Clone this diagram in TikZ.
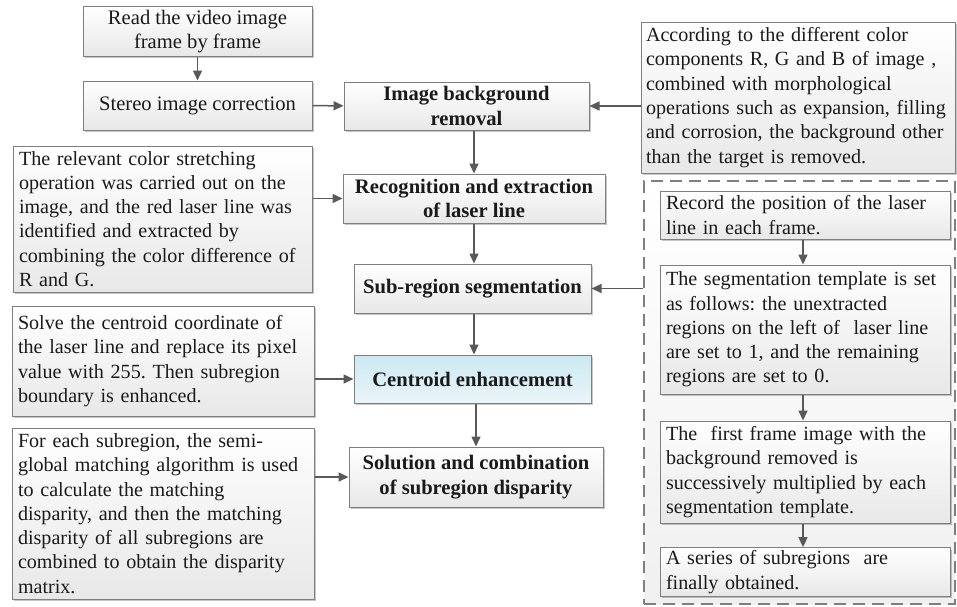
\documentclass[tikz,border=0pt]{standalone}
\usepackage{fontspec}
\setmainfont{Liberation Serif}
\usetikzlibrary{arrows.meta,shadows}
\definecolor{edge}{HTML}{7F7F7F}
\definecolor{arrowgray}{HTML}{595959}
\definecolor{ink}{HTML}{1A1A1A}
\definecolor{fillbot}{HTML}{E8E8E8}
\definecolor{grpbot}{HTML}{F0F0F0}
\definecolor{bluetop}{HTML}{CBE9F3}
\definecolor{bluebot}{HTML}{EAF5F8}
\newcommand{\txtsize}{\fontsize{20.6}{24.3}\selectfont}
\newcommand{\notesize}{\fontsize{20.1}{24.3}\selectfont}
\frenchspacing

\begin{document}
\begin{tikzpicture}[x=1pt,y=-1pt,
  font=\txtsize, text=ink,
  box/.style={draw=edge, line width=1pt, top color=white, bottom color=fillbot,
    drop shadow={shadow xshift=2pt,shadow yshift=-2pt,opacity=0.22,fill=black},
    inner ysep=3pt, inner xsep=6pt},
  centerbox/.style={box, align=center},
  stepbox/.style={centerbox, font=\txtsize\bfseries},
  note/.style={box, align=left, font=\notesize,
    execute at begin node={\hyphenpenalty=10000\exhyphenpenalty=10000\frenchspacing}},
  arr/.style={draw=arrowgray, line width=1.5pt, -{Triangle[length=10pt,width=9pt]}},
]
\useasboundingbox (0,0) rectangle (957,606);

% dashed group holding the segmentation sub-steps
\node[draw=edge, line width=1.1pt, dash pattern=on 12pt off 7pt,
      top color=white, bottom color=grpbot,
      minimum width=311pt, minimum height=423pt] (grp) at (799.5,392.5) {};

% main column
\node[centerbox, minimum width=229pt, minimum height=49pt] (read) at (197.5,31.5)
  {Read the video image\\frame by frame};
\node[centerbox, minimum width=229pt, minimum height=49pt] (stereo) at (197.5,105.5)
  {Stereo image correction};
\node[stepbox, minimum width=245pt, minimum height=48pt] (bgrem) at (466.5,106)
  {Image background\\removal};
\node[stepbox, minimum width=262pt, minimum height=49pt] (recog) at (474,198.5)
  {Recognition and extraction\\of laser line};
\node[stepbox, minimum width=237pt, minimum height=49pt] (subseg) at (472.5,288.5)
  {Sub-region segmentation};
\node[stepbox, minimum width=237pt, minimum height=48pt,
      top color=bluetop, bottom color=bluebot] (centroid) at (472.5,379)
  {Centroid enhancement};
\node[stepbox, minimum width=254pt, minimum height=60pt] (solution) at (476,477)
  {Solution and combination\\of subregion disparity};

% explanatory notes
\node[note, inner xsep=5pt, text width=304pt, minimum height=151pt] (colorinfo) at (798,97.5)
  {According to the different color\\components R, G and B of image ,\\combined with morphological\\operations such as expansion, filling\\and corrosion, the background other\\than the target is removed.};
\node[note, text width=287pt, minimum height=146pt] (stretch) at (162.5,219)
  {The relevant color stretching\\operation was carried out on the\\image, and the red laser line was\\identified and extracted by\\combining the color difference of\\R and G.};
\node[note, text width=290pt, minimum height=110pt] (solve) at (163,361)
  {Solve the centroid coordinate of\\the laser line and replace its pixel\\value with 255. Then subregion\\boundary is enhanced.};
\node[note, text width=290pt, minimum height=171pt] (sgm) at (163,513.5)
  {For each subregion, the semi-\\global matching algorithm is used\\to calculate the matching\\disparity, and then the matching\\disparity of all subregions are\\combined to obtain the disparity\\matrix.};

% segmentation sub-steps
\node[note, text width=278pt, minimum height=48pt] (record) at (805,215)
  {Record the position of the laser\\line in each frame.};
\node[note, text width=278pt, minimum height=129pt] (template) at (805,329.5)
  {The segmentation template is set\\as follows: the unextracted\\regions on the left of\ \ laser line\\are set to 1, and the remaining\\regions are set to 0.};
\node[note, text width=278pt, minimum height=102pt] (frame) at (805,472)
  {The\ \ first frame image with the\\background removed is\\successively multiplied by each\\segmentation template.};
\node[note, text width=278pt, minimum height=48pt] (series) at (805,572)
  {A series of subregions\ \ are\\finally obtained.};

% connector columns
\coordinate (col) at (474,0);
\coordinate (colb) at (476,0);
\coordinate (rcol) at (803,0);

% connectors
\draw[arr] (read) -- (stereo);
\draw[arr] (stereo) -- (bgrem);
\draw[arr] (colorinfo.west |- bgrem) -- (bgrem);
\draw[arr] (bgrem.south -| col) -- (recog.north -| col);
\draw[arr] (stretch.east |- recog) -- (recog);
\draw[arr] (recog.south -| col) -- (subseg.north -| col);
\draw[arr] (grp.west |- subseg) -- (subseg);
\draw[arr] (subseg.south -| col) -- (centroid.north -| col);
\draw[arr] (solve.east |- centroid) -- (centroid);
\draw[arr] (centroid.south -| colb) -- (solution.north -| colb);
\draw[arr] (sgm.east |- solution) -- (solution);
\draw[arr] (record.south -| rcol) -- (template.north -| rcol);
\draw[arr] (template.south -| rcol) -- (frame.north -| rcol);
\draw[arr] (frame.south -| rcol) -- (series.north -| rcol);
\end{tikzpicture}
\end{document}
